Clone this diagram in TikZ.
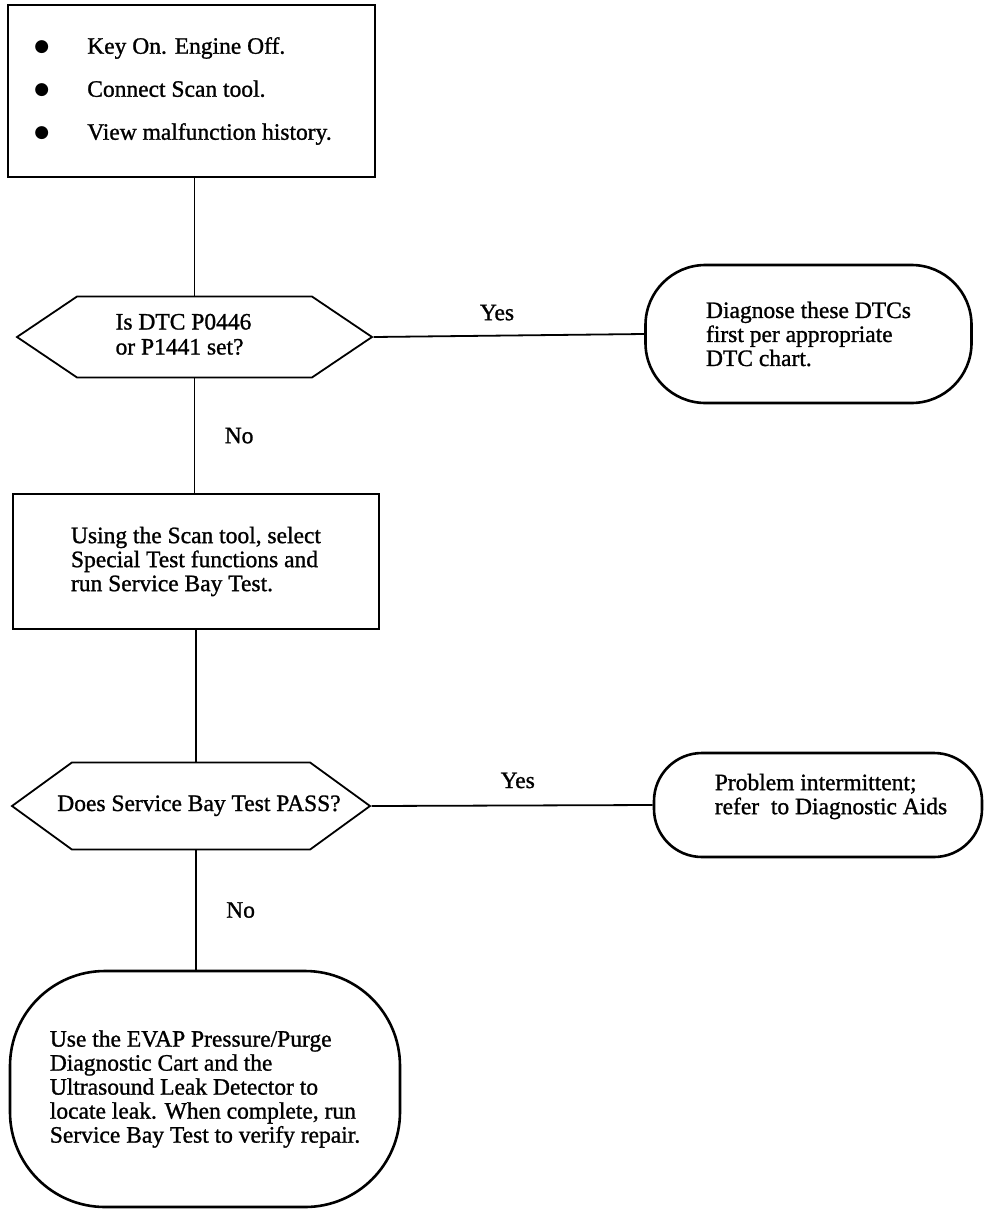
\documentclass[tikz,border=0pt]{standalone}
\usepackage{fontspec}
\setmainfont{Liberation Serif}[UprightFeatures = {FakeBold = 1.1}]
\newfontfamily\dotfont{DejaVu Sans}
\usepackage{tikz}
\usetikzlibrary{shapes,arrows, positioning}
\tikzstyle{stepbox} = [rectangle, draw, line width = 2.4pt, align = left, font = \fontsize{23.5}{24}\selectfont]
\tikzstyle{decision} = [signal, signal to = east and west, draw, line width = 1.8pt, inner sep = 0pt, font = \fontsize{23.5}{25}\selectfont]
\tikzstyle{terminal} = [rectangle, draw, line width = 2.6pt, align = left, font = \fontsize{23.5}{24}\selectfont]
\tikzstyle{line} = [draw, line width = 1.8pt]
\tikzstyle{answer} = [font = \fontsize{23.5}{24}\selectfont]
\newcommand{\dotitem}[1]{\makebox[46pt][l]{\hspace*{-7pt}\raisebox{2pt}{\dotfont\fontsize{17}{17}\selectfont ●}}#1}
% question text takes no width, so the shape keeps its own size
\newcommand{\asktext}[2][0pt]{\makebox[0pt]{\begin{tabular}{@{}l@{}}#2\end{tabular}\hspace{#1}}}

\begin{document}
\begin{tikzpicture}[x = 1pt, y = -1pt]
			\useasboundingbox (0,0) rectangle (992,1210);
			\node [stepbox, minimum width = 367pt, minimum height = 172pt, font = \fontsize{23.5}{43}\selectfont] (start) at (191.5, 91) {\dotitem{Key On. Engine Off.}\\ \dotitem{Connect Scan tool.}\\ \dotitem{View malfunction history.}\hspace*{10pt}};
			\node [decision, signal pointer angle = 68, minimum width = 355pt, minimum height = 81pt] (dtc) at (194.5, 337) {\asktext[22pt]{Is DTC P0446\\ or P1441 set?}};
			\node [terminal, rounded corners = 60pt, minimum width = 326pt, minimum height = 138pt] (diag) at (808.5, 334) {Diagnose these DTCs\\ first per appropriate\\ DTC chart.};
			\node [stepbox, minimum width = 366pt, minimum height = 135pt] (scan) at (196, 561.5) {Using the Scan tool, select\\ Special Test functions and\\ run Service Bay Test.};
			\node [decision, signal pointer angle = 72, minimum width = 358pt, minimum height = 87pt] (bay) at (191, 806) {\asktext[-16pt]{Does Service Bay Test PASS?}};
			\node [terminal, rounded corners = 48pt, minimum width = 328pt, minimum height = 104pt] (aids) at (818, 805) {\hspace*{26pt}Problem intermittent;\\ \hspace*{26pt}refer\ \ to Diagnostic Aids\\[-2pt]};
			\node [terminal, rounded corners = 95pt, minimum width = 390pt, minimum height = 236pt] (leak) at (205, 1089) {Use the EVAP Pressure/Purge\\ Diagnostic Cart and the\\ Ultrasound Leak Detector to\\ locate leak. When complete, run\\ Service Bay Test to verify repair.};

			\path [line] (dtc.north |- start.south) -- (dtc.north);
			\path [line] (dtc.east) -- node [answer, above = 11pt, pos = 0.456] {Yes} (diag.west);
			\path [line] (dtc.south) -- node [answer, right = 26pt] {No} (dtc.south |- scan.north);
			\path [line] (scan.south) -- (scan.south |- bay.north);
			\path [line] (bay.east) -- node [answer, above = 13pt, pos = 0.52] {Yes} (aids.west);
			\path [line] (scan.south |- bay.south) -- node [answer, right = 26pt] {No} (scan.south |- leak.north);
		\end{tikzpicture}
\end{document}
